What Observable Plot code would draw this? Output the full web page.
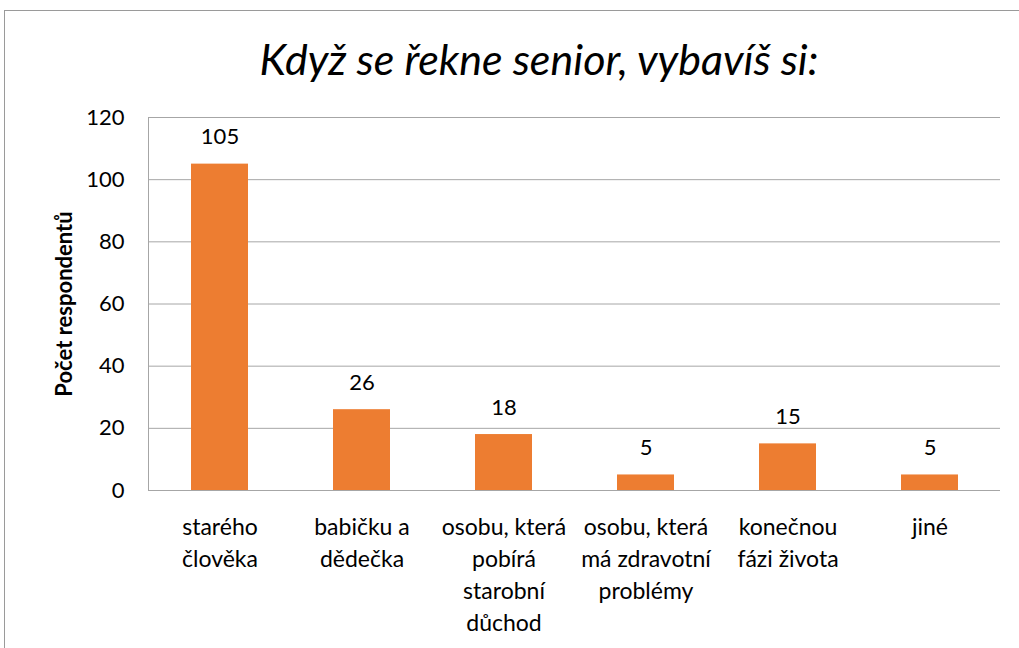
<!DOCTYPE html>
<html>
<head>
<meta charset="utf-8">
<script src="https://cdn.jsdelivr.net/npm/d3@7"></script>
<script src="https://cdn.jsdelivr.net/npm/@observablehq/plot@0.6"></script>
<style>
  html, body { margin: 0; padding: 0; background: #fff; overflow: hidden; width: 1019px; height: 648px; }
  #frame { position: absolute; left: 4px; top: 10px; width: 1100px; height: 700px; border: 1px solid #9a9a9a; box-sizing: border-box; }
  #title { position: absolute; left: 0; top: 34px; width: 1078px; text-align: center; font-family: Lato, sans-serif; font-style: italic; font-size: 43px; color: #000; line-height: 50px; }
  #chart { position: absolute; left: 0; top: 100px; }
</style>
</head>
<body>
<div id="frame"></div>
<div id="title">Když se řekne senior, vybavíš si:</div>
<div id="chart"></div>
<script>
const categories = [
  "starého\nčlověka",
  "babičku a\ndědečka",
  "osobu, která\npobírá\nstarobní\ndůchod",
  "osobu, která\nmá zdravotní\nproblémy",
  "konečnou\nfázi života",
  "jiné"
];
const values = [105, 26, 18, 5, 15, 5];
const yTicks = [0, 20, 40, 60, 80, 100, 120];
const yLabel = "Počet respondentů";

const data = categories.map((c, i) => ({ category: c, value: values[i] }));

const chart = Plot.plot({
  width: 1019,
  height: 548,
  marginLeft: 148,
  marginRight: 19,
  marginTop: 17,
  marginBottom: 158,
  style: { fontFamily: "Lato, sans-serif", fontSize: "22px", color: "#000", background: "transparent" },
  x: { domain: categories, paddingInner: 0.6, paddingOuter: 0.3, label: null },
  y: { domain: [0, 120], label: null },
  marks: [
    Plot.gridY(yTicks, { stroke: "#a6a6a6", strokeOpacity: 1, strokeWidth: 1 }),
    Plot.frame({ anchor: "left", stroke: "#a6a6a6" }),
    Plot.barY(data, { x: "category", y: "value", fill: "#ED7D31" }),
    Plot.text(data, { x: "category", y: "value", text: d => String(d.value), dy: -27, fontSize: 22, fill: "#000" }),
    Plot.axisY(yTicks, { tickSize: 0, tickPadding: 24, fontSize: 22, label: null }),
    Plot.axisY({ ticks: [], tickSize: 0, label: yLabel, labelAnchor: "center", labelOffset: 92, labelArrow: "none", fontWeight: "bold", fontSize: 22 }),
    Plot.axisX({ tickSize: 0, tickPadding: 22, fontSize: 23, lineHeight: 1.39, lineAnchor: "top", label: null })
  ]
});
document.getElementById("chart").appendChild(chart);
</script>
</body>
</html>
